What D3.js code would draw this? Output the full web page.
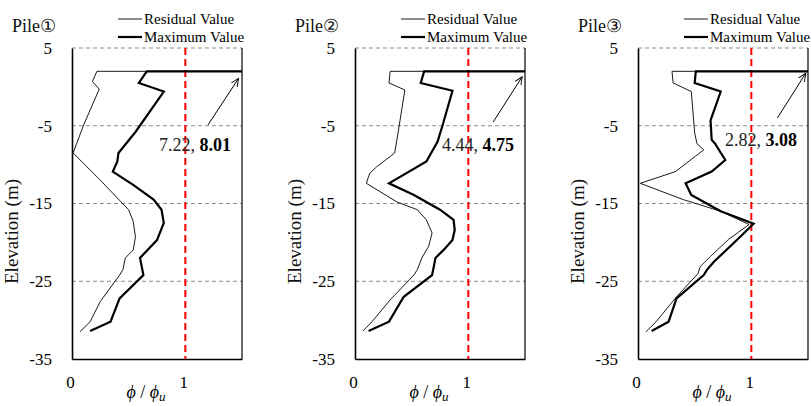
<!DOCTYPE html>
<html>
<head>
<meta charset="utf-8">
<script src="https://cdn.jsdelivr.net/npm/d3@7"></script>
<style>
  html, body { margin: 0; padding: 0; background: #fff; }
  svg text { font-family: "Liberation Serif", "Times New Roman", serif; }
</style>
</head>
<body>
<svg id="chart" width="811" height="406"></svg>
<script>
// Curvature ratio phi/phi_u along each pile: [phi/phi_u, elevation (m)]
const pileNames = ["Pile\u2460", "Pile\u2461", "Pile\u2462"];

// Peak values at the pile head (off the plotted range)
const headResidual = [7.22, 4.44, 2.82];
const headMaximum  = [8.01, 4.75, 3.08];

const pile1Residual = [[0.22, 2], [0.18, 0.7], [0.24, -0.3], [0.10, -5.0], [0.01, -8.5], [0.25, -12.0],
  [0.40, -14.3], [0.50, -15.8], [0.54, -17.3], [0.56, -19.3], [0.54, -21.0], [0.47, -22.0],
  [0.45, -23.5], [0.42, -24.2], [0.25, -27.6], [0.16, -30.2], [0.07, -31.5]];
const pile1Maximum = [[0.66, 2], [0.59, 0.5], [0.81, -0.6], [0.56, -5.8], [0.41, -8.5], [0.40, -9.6],
  [0.36, -10.9], [0.54, -12.6], [0.72, -14.5], [0.79, -15.8], [0.81, -17.5], [0.75, -19.7],
  [0.60, -22.0], [0.63, -24.2], [0.42, -27.2], [0.34, -30.2], [0.16, -31.4]];

const pile2Residual = [[0.31, 2], [0.30, 0.5], [0.44, -0.4], [0.38, -5.9], [0.35, -8.5], [0.19, -10.3],
  [0.13, -11.1], [0.10, -12.4], [0.37, -14.8], [0.55, -15.8], [0.63, -17.1], [0.68, -18.8],
  [0.65, -20.5], [0.59, -22.0], [0.55, -23.5], [0.52, -24.2], [0.31, -27.4], [0.15, -30.2], [0.07, -31.4]];
const pile2Maximum = [[0.61, 2], [0.58, 0.5], [0.86, -0.5], [0.77, -5.1], [0.75, -6.0], [0.73, -7.0],
  [0.63, -9.6], [0.30, -12.4], [0.52, -13.9], [0.75, -15.8], [0.87, -17.1], [0.88, -18.4],
  [0.86, -19.7], [0.78, -21.0], [0.71, -22.0], [0.69, -23.5], [0.68, -24.2], [0.43, -27.0],
  [0.30, -30.2], [0.12, -31.4]];

const pile3Residual = [[0.30, 2], [0.31, 0.5], [0.47, -0.6], [0.50, -5.9], [0.52, -7.3], [0.58, -8.1],
  [0.33, -10.9], [0.02, -12.4], [0.40, -14.5], [0.73, -16.0], [0.98, -17.7], [0.80, -19.6],
  [0.64, -21.8], [0.55, -23.1], [0.53, -24.0], [0.34, -27.0], [0.16, -30.2], [0.07, -31.5]];
const pile3Maximum = [[0.51, 2], [0.50, 0.5], [0.73, -0.6], [0.64, -4.3], [0.65, -6.8], [0.68, -7.3],
  [0.77, -9.4], [0.65, -10.9], [0.42, -12.4], [0.47, -13.9], [0.73, -16.0], [1.02, -17.6],
  [0.90, -19.3], [0.67, -22.5], [0.61, -23.5], [0.58, -24.2], [0.34, -27.2], [0.27, -30.2],
  [0.12, -31.4]];

const residualSeries = [pile1Residual, pile2Residual, pile3Residual];
const maximumSeries  = [pile1Maximum, pile2Maximum, pile3Maximum];

// Arrow pointing toward the clipped head values: [x, elevation] tail and head
const arrowTail = [[1.20, -4.9], [1.22, -4.5], [1.23, -4.0]];
const arrowHead = [[1.47, 1.1], [1.475, 1.3], [1.48, 1.75]];

const yTicks = [5, -5, -15, -25, -35];
const xTicks = [0, 1];
const gridLevels = [5, -5, -15, -25];
const headElevation = 2;

const FONT = "'Liberation Serif', 'Times New Roman', serif";

const svg = d3.select("#chart").attr("font-family", FONT);
const defs = svg.append("defs");
defs.append("marker")
  .attr("id", "arrowhead").attr("viewBox", "0 0 10 10")
  .attr("refX", 9).attr("refY", 5)
  .attr("markerWidth", 9).attr("markerHeight", 9)
  .attr("orient", "auto")
  .append("path").attr("d", "M0,1 L9,5 L0,9").attr("fill", "none")
  .attr("stroke", "#000").attr("stroke-width", 1);

const panelLeft = [72, 355, 638];
const plotW = 170, plotTop = 48, plotBottom = 359;

const line = (x, y) => d3.line().x(d => x(d[0])).y(d => y(d[1]));

pileNames.forEach((name, i) => {
  const x0 = panelLeft[i];
  const x = d3.scaleLinear().domain([0, 1.5]).range([x0, x0 + plotW]);
  const y = d3.scaleLinear().domain([-35, 5]).range([plotBottom, plotTop]);
  const g = svg.append("g").attr("font-family", FONT);

  const clipId = "clip" + i;
  defs.append("clipPath").attr("id", clipId)
    .append("rect").attr("x", x0).attr("y", plotTop - 2)
    .attr("width", plotW).attr("height", plotBottom - plotTop + 4);

  // dashed horizontal grid
  g.selectAll(".grid").data(gridLevels).enter().append("line")
    .attr("x1", x0).attr("x2", x0 + plotW)
    .attr("y1", d => y(d)).attr("y2", d => y(d))
    .attr("stroke", "#8c8c8c").attr("stroke-width", 1)
    .attr("stroke-dasharray", "4,3");

  // y axis (left) with labels only
  const yAxis = d3.axisLeft(y).tickValues(yTicks).tickSize(0).tickPadding(20).tickFormat(d3.format("d"));
  const ya = g.append("g").attr("transform", `translate(${x0},0)`).call(yAxis).attr("font-family", FONT);
  ya.select(".domain").attr("stroke", "#000").attr("stroke-width", 1.6);
  ya.selectAll("text").attr("font-size", 17).attr("fill", "#000")
    .text(d => d < 0 ? "-" + Math.abs(d) : d);

  // x axis (bottom)
  const xAxis = d3.axisBottom(x).tickValues(xTicks).tickSize(0).tickPadding(17).tickFormat(d3.format("d"));
  const xa = g.append("g").attr("transform", `translate(0,${plotBottom})`).call(xAxis).attr("font-family", FONT);
  xa.select(".domain").attr("stroke", "#000").attr("stroke-width", 1.6);
  xa.selectAll("text").attr("font-size", 17).attr("fill", "#000").attr("dx", -2);

  // right border
  g.append("line").attr("x1", x0 + plotW).attr("x2", x0 + plotW)
    .attr("y1", plotTop).attr("y2", plotBottom).attr("stroke", "#000").attr("stroke-width", 1.2);

  // phi/phi_u = 1 reference
  g.append("line").attr("x1", x(1)).attr("x2", x(1))
    .attr("y1", plotTop).attr("y2", plotBottom)
    .attr("stroke", "#ff0000").attr("stroke-width", 2).attr("stroke-dasharray", "7,4");

  // curves, starting from the head value
  const res = [[headResidual[i], headElevation]].concat(residualSeries[i]);
  const max = [[headMaximum[i], headElevation]].concat(maximumSeries[i]);
  const curves = g.append("g").attr("clip-path", `url(#${clipId})`);
  curves.append("path").datum(res).attr("d", line(x, y))
    .attr("fill", "none").attr("stroke", "#000").attr("stroke-width", 0.9)
    .attr("stroke-linejoin", "miter");
  curves.append("path").datum(max).attr("d", line(x, y))
    .attr("fill", "none").attr("stroke", "#000").attr("stroke-width", 2.2)
    .attr("stroke-linejoin", "miter");

  // arrow and head-value note
  g.append("line")
    .attr("x1", x(arrowTail[i][0])).attr("y1", y(arrowTail[i][1]))
    .attr("x2", x(arrowHead[i][0])).attr("y2", y(arrowHead[i][1]))
    .attr("stroke", "#000").attr("stroke-width", 1).attr("marker-end", "url(#arrowhead)");
  const note = g.append("text")
    .attr("x", x0 + plotW - 11).attr("y", i === 2 ? 146 : 151)
    .attr("text-anchor", "end").attr("font-size", 18).attr("fill", "#222");
  note.append("tspan").text(headResidual[i].toFixed(2) + ", ");
  note.append("tspan").attr("font-weight", "bold").attr("fill", "#000").text(headMaximum[i].toFixed(2));

  // title
  g.append("text").attr("x", x0 - 60).attr("y", 32)
    .attr("font-size", 18).attr("fill", "#111").text(name);

  // legend
  const lx = x0 + 46;
  [["Residual Value", 0.9, 19], ["Maximum Value", 2.2, 37]].forEach(([label, w, ly]) => {
    g.append("line").attr("x1", lx).attr("x2", lx + 24).attr("y1", ly).attr("y2", ly)
      .attr("stroke", "#000").attr("stroke-width", w);
    g.append("text").attr("x", lx + 26).attr("y", ly + 5)
      .attr("font-size", 15).attr("fill", "#000").text(label);
  });

  // axis titles
  g.append("text")
    .attr("transform", `translate(${x0 - 54},${(plotTop + plotBottom) / 2 + 28}) rotate(-90)`)
    .attr("text-anchor", "middle").attr("font-size", 19).attr("fill", "#111")
    .text("Elevation (m)");
  const xl = g.append("text").attr("x", x0 + 74).attr("y", 398)
    .attr("text-anchor", "middle").attr("font-size", 18).attr("fill", "#000");
  xl.append("tspan").attr("font-style", "italic").text("\u03d5");
  xl.append("tspan").text(" / ");
  xl.append("tspan").attr("font-style", "italic").text("\u03d5");
  xl.append("tspan").attr("font-style", "italic").attr("font-size", 13).attr("dy", 3).text("u");
});
</script>
</body>
</html>
